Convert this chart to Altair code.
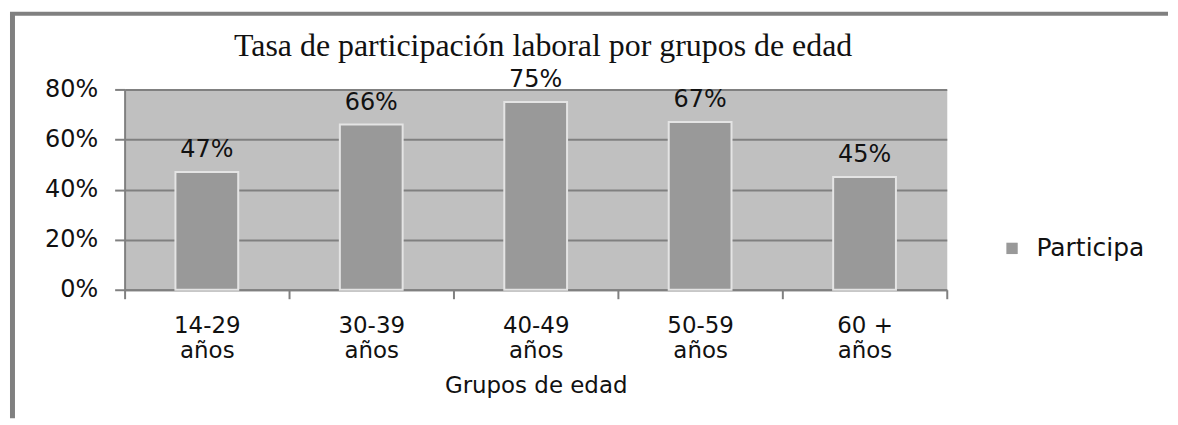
import altair as alt
import pandas as pd

grupos = ["14-29 años", "30-39 años", "40-49 años", "50-59 años", "60 + años"]
tasas = [0.47, 0.66, 0.75, 0.67, 0.45]
serie = ["Participa", "Participa", "Participa", "Participa", "Participa"]
titulo = ["Tasa de participación laboral por grupos de edad"]
ticks_y = [0, 0.2, 0.4, 0.6, 0.8]

df = pd.DataFrame({"grupo": grupos, "tasa": tasas, "serie": serie})
df_titulo = pd.DataFrame({"t": titulo})
df_uno = pd.DataFrame({"k": [0]})

W, H = 825, 201
SANS = "DejaVu Sans"
GRIS = "#808080"

x_enc = alt.X(
    "grupo:N", sort=grupos, title="Grupos de edad",
    scale=alt.Scale(paddingInner=0, paddingOuter=0),
    axis=alt.Axis(
        labelAngle=0, tickBand="extent",
        labelExpr="split(replace(datum.label, ' años', '|años'), '|')",
        labelFont=SANS, labelFontSize=23, labelColor="#111111",
        labelLineHeight=25, labelBaseline="top", labelPadding=16,
        domainColor=GRIS, domainWidth=2, tickColor=GRIS, tickWidth=2, tickSize=9,
        titleFont=SANS, titleFontSize=23, titleFontWeight="normal",
        titleColor="#111111", titlePadding=12, grid=False,
    ),
)
y_enc = alt.Y(
    "tasa:Q",
    scale=alt.Scale(domain=[0, 0.8], nice=False),
    axis=alt.Axis(
        values=ticks_y, format=".0%", title=None,
        labelFont=SANS, labelFontSize=24, labelColor="#111111", labelPadding=17,
        domainColor=GRIS, domainWidth=2, tickColor=GRIS, tickWidth=2, tickSize=10,
        grid=True, gridColor=GRIS, gridWidth=2,
    ),
)

bars = alt.Chart(df).mark_bar(size=63, stroke="#e4e4e4", strokeWidth=2).encode(
    x=x_enc, y=y_enc,
    color=alt.Color(
        "serie:N",
        scale=alt.Scale(domain=["Participa"], range=["#999999"]),
        legend=alt.Legend(
            orient="none", legendX=878, legendY=147, title=None,
            symbolType="square", symbolSize=130, symbolStrokeWidth=0,
            labelFont=SANS, labelFontSize=25, labelColor="#111111", labelOffset=12,
        ),
    ),
)

labels = alt.Chart(df).mark_text(
    font=SANS, fontSize=24, color="#111111", baseline="middle", dy=-22
).encode(x=alt.X("grupo:N", sort=grupos), y="tasa:Q", text=alt.Text("tasa:Q", format=".0%"))

title = alt.Chart(df_titulo).mark_text(
    font="Liberation Serif", fontSize=32, color="#111111", baseline="middle", align="center"
).encode(x=alt.value(420), y=alt.value(-44), text="t:N")

borde_sup = alt.Chart(df_uno).mark_rule(color=GRIS, strokeWidth=4).encode(
    x=alt.value(-115), x2=alt.value(1047), y=alt.value(-76)
)
borde_izq = alt.Chart(df_uno).mark_rule(color=GRIS, strokeWidth=5).encode(
    x=alt.value(-112.5), y=alt.value(-76), y2=alt.value(330)
)

chart = alt.layer(bars, labels, title, borde_sup, borde_izq).properties(
    width=W, height=H, padding={"left": 0, "top": 2, "right": 0, "bottom": 0},
    background="white",
).configure_view(fill="#c0c0c0", strokeOpacity=0)

chart.save("out.html", embed_options={"renderer": "svg", "actions": False})
